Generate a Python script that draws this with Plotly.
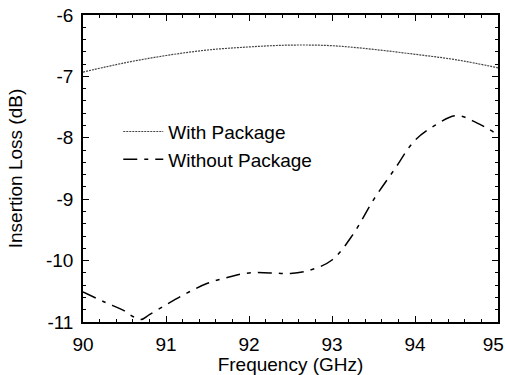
import plotly.graph_objects as go

freq_with = [90, 90.5, 91, 91.5, 92, 92.5, 93, 93.5, 94, 94.5, 95]
loss_with = [-6.93, -6.78, -6.66, -6.57, -6.52, -6.49, -6.50, -6.56, -6.64, -6.73, -6.86]

freq_without = [90, 90.25, 90.5, 90.6, 90.7, 90.8, 91, 91.25, 91.5, 91.75, 92, 92.25,
                92.5, 92.75, 93, 93.25, 93.5, 93.75, 94, 94.25, 94.5, 94.75, 95]
loss_without = [-10.51, -10.67, -10.82, -10.91, -10.96, -10.88, -10.72, -10.53, -10.37,
                -10.27, -10.20, -10.20, -10.21, -10.15, -9.99, -9.58, -9.01, -8.52,
                -8.04, -7.79, -7.64, -7.76, -7.95]

x_ticks = [90, 91, 92, 93, 94, 95]
x_ticklabels = ["90", "91", "92", "93", "94", "95\u2002"]
y_ticks = [-6, -7, -8, -9, -10, -11]

font = dict(family="Liberation Sans, Arial, sans-serif", color="black")

fig = go.Figure()
fig.add_trace(go.Scatter(x=freq_with, y=loss_with, mode="lines", name="With Package",
                         line=dict(color="#444444", width=1.2, dash="2px,1px", shape="spline")))
fig.add_trace(go.Scatter(x=freq_without, y=loss_without, mode="lines", name="Without Package",
                         line=dict(color="black", width=1.5, dash="14px,7px,4px,7px", shape="spline")))

axis_common = dict(showline=True, linecolor="black", linewidth=1.5, mirror="allticks",
                   ticks="inside", ticklen=6, tickwidth=1.2, tickcolor="black",
                   showgrid=False, zeroline=False, ticklabeloverflow="allow",
                   automargin=False,
                   tickfont=dict(size=19, **font))

fig.update_xaxes(range=[90, 95], tickvals=x_ticks, ticktext=x_ticklabels,
                 minor=dict(dtick=0.2, ticks="inside", ticklen=3, tickcolor="black", showgrid=False),
                 title=dict(text="Frequency (GHz)", font=dict(size=19, **font), standoff=0),
                 ticklabelstandoff=4,
                 **axis_common)
fig.update_yaxes(range=[-11, -6], tickvals=y_ticks, ticktext=[str(v) for v in y_ticks],
                 minor=dict(dtick=0.2, ticks="inside", ticklen=3, tickcolor="black", showgrid=False),
                 title=dict(text="Insertion Loss (dB)", font=dict(size=19, **font), standoff=18),
                 ticklabelstandoff=4,
                 **axis_common)

fig.update_layout(
    width=505, height=375,
    margin=dict(l=83, r=7, t=15, b=53),
    paper_bgcolor="white", plot_bgcolor="white",
    legend=dict(x=0.085, y=0.682, xanchor="left", yanchor="top", bgcolor="rgba(0,0,0,0)",
                font=dict(size=19, **font), tracegroupgap=0, itemwidth=40),
    showlegend=True,
)

fig.write_html("out.html", config={"displayModeBar": False},
               post_script="document.body.style.margin='0';")
